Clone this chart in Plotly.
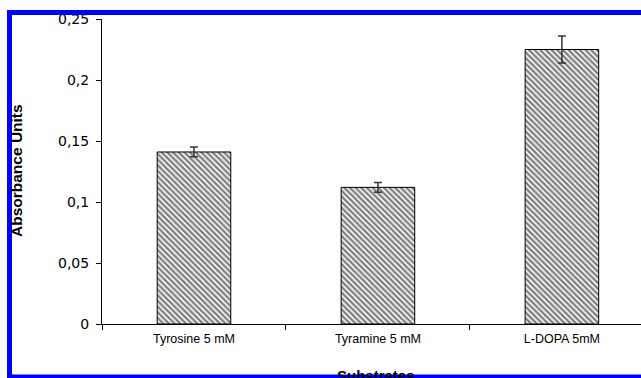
import plotly.graph_objects as go

categories = ["Tyrosine 5 mM", "Tyramine 5 mM", "L-DOPA 5mM"]
values = [0.141, 0.112, 0.225]
errors = [0.004, 0.004, 0.011]
y_ticks = [0, 0.05, 0.1, 0.15, 0.2, 0.25]

W, H = 641, 378
L, R, T, B = 102, 0, 19, 54
pw, ph = W - L - R, H - T - B

def px(x):
    return (x - L) / pw

def py(y):
    return (H - B - y) / ph

fig = go.Figure()
fig.add_trace(go.Bar(
    x=categories, y=values, width=0.4,
    marker=dict(color="white", line=dict(color="black", width=1),
                pattern=dict(shape="\\", fgcolor="black", bgcolor="white", size=4, solidity=0.6)),
    error_y=dict(type="data", array=errors, visible=True, color="#333333", thickness=1.5, width=4),
    showlegend=False,
))

fig.update_layout(
    width=W, height=H,
    margin=dict(l=L, r=R, t=T, b=B, pad=0),
    paper_bgcolor="white", plot_bgcolor="white",
    separators=",.",
    font=dict(family="Liberation Sans, Arial, sans-serif", color="black"),
    xaxis=dict(range=[-0.5, 2.43], showline=True, linecolor="black", linewidth=1,
               ticks="outside", ticklen=5, tickcolor="black", tickson="boundaries",
               tickfont=dict(size=12.5), ticklabelstandoff=3, showgrid=False, zeroline=False),
    yaxis=dict(range=[0, 0.25], tickvals=y_ticks, showline=True, linecolor="black", linewidth=1,
               ticks="outside", ticklen=5, tickcolor="black",
               tickfont=dict(size=14, family="DejaVu Sans"),
               ticklabelstandoff=4, showgrid=False, zeroline=False),
    annotations=[
        dict(text="<b>Absorbance Units</b>", xref="paper", yref="paper", x=px(16), y=py(171),
             textangle=-90, showarrow=False, font=dict(size=15.5), xanchor="center", yanchor="middle"),
        dict(text="<b>Substrates</b>", xref="paper", yref="paper", x=px(376), y=py(365),
             showarrow=False, font=dict(size=15), xanchor="center", yanchor="top"),
    ],
    shapes=[
        dict(type="rect", xref="paper", yref="paper", x0=px(9.5), x1=1.2, y0=py(377), y1=py(12.5),
             line=dict(color="#0000FF", width=5), fillcolor="rgba(0,0,0,0)", layer="above"),
    ],
)

fig.write_html("out.html")
